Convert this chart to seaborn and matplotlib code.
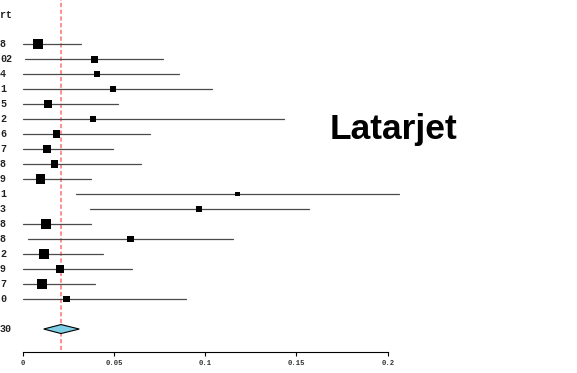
import matplotlib
matplotlib.use("Agg")
import matplotlib.pyplot as plt
import matplotlib.transforms as mtransforms
import seaborn as sns
import pandas as pd

# ---- data ----
labels = ["8", "02", "4", "1", "5", "2", "6", "7", "8", "9",
          "1", "3", "8", "8", "2", "9", "7", "0"]
est = [0.0084, 0.0392, 0.0406, 0.0494, 0.0140, 0.0385, 0.0185, 0.0131, 0.0173,
       0.0099, 0.1177, 0.0968, 0.0129, 0.0591, 0.0117, 0.0204, 0.0106, 0.0240]
lo = [0.0, 0.0013, 0.0, 0.0, 0.0, 0.0, 0.0, 0.0, 0.0,
      0.0, 0.0294, 0.0369, 0.0, 0.0029, 0.0, 0.0, 0.0, 0.0]
hi = [0.0319, 0.0768, 0.0857, 0.1036, 0.0521, 0.1432, 0.0698, 0.0495, 0.0648,
      0.0374, 0.2063, 0.1569, 0.0374, 0.1154, 0.0440, 0.0601, 0.0396, 0.0895]
weights = [114, 49, 40, 32, 59, 28, 59, 64, 53, 86, 18, 36, 94, 40, 86, 59, 86, 40]
summary_label = "30"
summary_est = 0.021
summary_lo = 0.0115
summary_hi = 0.031
header = "rt"
title = "Latarjet"
xticks = [0, 0.05, 0.1, 0.15, 0.2]
xticklabels = ["0", "0.05", "0.1", "0.15", "0.2"]

sns.set_style("white")

W, H = 577, 373
fig = plt.figure(figsize=(W / 100, H / 100), dpi=100)
ax = fig.add_axes([22.7 / W, 21 / H, (387.7 - 22.7) / W, 352 / H])

n = len(labels)
rows = list(range(n))
df = pd.DataFrame({"row": rows, "est": est, "lo": lo, "hi": hi, "w": weights})

# confidence intervals
for r, l, h in zip(rows, lo, hi):
    ax.plot([l, h], [r, r], color="#4a4a4a", lw=0.9, clip_on=False, zorder=2)

# study squares
sns.scatterplot(data=df, x="est", y="row", size="w", sizes=(0, 59), size_norm=(0, 114),
                marker="s", color="black", linewidth=0, legend=False, ax=ax,
                clip_on=False, zorder=3)

# summary diamond
ys = n + 1
dh = 0.3
ax.fill([summary_lo, summary_est, summary_hi, summary_est],
        [ys, ys - dh, ys, ys + dh], facecolor="#7fd0e6", edgecolor="black",
        lw=0.8, zorder=3, clip_on=False)

# reference line
ax.axvline(summary_est, ymin=0.006, ymax=1, color="#ff7070", lw=1.1,
           ls=(0, (2.8, 1.6)), zorder=1)

ax.set_xlim(0, 0.2)
ax.set_ylim(20.53, -2.933)
ax.set_xlabel("")
ax.set_ylabel("")
ax.set_yticks([])
ax.set_xticks(xticks)
ax.set_xticklabels(xticklabels, fontfamily="Liberation Mono", fontsize=5.2,
                   fontweight="bold", color="#333333")
ax.tick_params(axis="x", direction="out", length=3.2, width=0.8, color="black", pad=2.5,
               bottom=True)
for s in ["left", "top", "right"]:
    ax.spines[s].set_visible(False)
ax.spines["bottom"].set_color("black")
ax.spines["bottom"].set_linewidth(0.8)
ax.patch.set_alpha(0)

# left labels (cut off by the crop)
trans = mtransforms.blended_transform_factory(fig.transFigure, ax.transData)
for r, lab in zip(rows, labels):
    ax.text(0.0, r, lab, transform=trans, ha="left", va="center",
            fontfamily="Liberation Mono", fontweight="bold", fontsize=7.2, color="#222222")
ax.text(0.0, ys, summary_label, transform=trans, ha="left", va="center",
        fontfamily="Liberation Mono", fontweight="bold", fontsize=7.2, color="#222222")
ax.text(0.0, -1.93, header, transform=trans, ha="left", va="center",
        fontfamily="Liberation Mono", fontweight="bold", fontsize=7.2, color="#222222")

fig.text(394 / W, 1 - 139 / H, title, ha="center", va="baseline",
         fontfamily="Liberation Sans", fontweight="bold", fontsize=25.5, color="black")

fig.savefig("out.png", dpi=100)
